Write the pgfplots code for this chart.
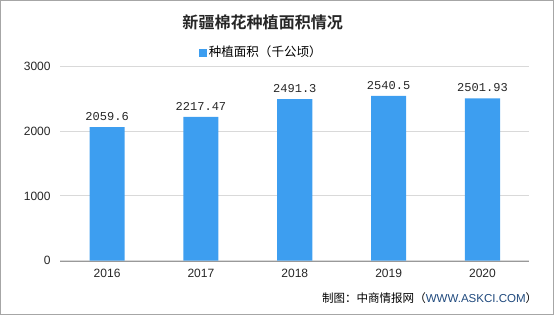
\documentclass[border=0pt]{standalone}
\usepackage{pgfplots}
\pgfplotsset{compat=1.18}
\usepackage{fontspec}
\setmainfont{Liberation Sans}
\newfontfamily\cjk{Noto Sans CJK SC}
\newfontfamily\cjkb{Noto Sans CJK SC Bold}
\newfontfamily\lblfont{Liberation Mono}
\definecolor{barblue}{RGB}{61,158,240}
\begin{document}
\begin{tikzpicture}[x=1pt,y=1pt]
\draw[gray!70, line width=1pt] (0.5,0.5) rectangle (552,313.5);
\node[font=\cjkb\fontsize{16}{18}\selectfont, text=black!85] at (262,292) {新疆棉花种植面积情况};
\node[font=\cjk\fontsize{12.5}{14}\selectfont, anchor=west, inner sep=0pt] at (198,262) {\textcolor{barblue}{\rule{8pt}{8pt}}\,种植面积（千公顷）};
\node[font=\cjk\fontsize{11.5}{13}\selectfont, anchor=east, inner sep=0pt] at (536,17) {制图：中商情报网（\textcolor[RGB]{31,73,125}{\fontspec{Liberation Sans}WWW.ASKCI.COM}）};
\begin{axis}[
  at={(60pt,54pt)}, anchor=south west,
  scale only axis, width=468pt, height=194pt,
  xmin=-0.5, xmax=4.5, ymin=0, ymax=3000,
  ytick={0,1000,2000,3000},
  xtick={0,1,2,3,4},
  xticklabels={2016,2017,2018,2019,2020},
  major x tick style={draw=none},
  extra x ticks={-0.5,0.5,1.5,2.5,3.5,4.5},
  extra x tick labels={},
  extra x tick style={major tick length=4pt, tick style={gray!80}, tick align=outside, grid=none},
  axis x line*=bottom, axis y line*=left,
  x axis line style={-, gray!80},
  y axis line style={draw=none},
  major y tick style={draw=none},
  ymajorgrids, grid style={gray!30, line width=0.8pt},
  tick label style={font=\fontsize{12}{14}\selectfont, text=black!85},
  yticklabel style={xshift=-6pt},
  xticklabel style={yshift=-1pt},
  /pgf/number format/assume math mode=true,
  yticklabel={\pgfmathprintnumber[fixed,1000 sep={}]{\tick}},
  ybar, bar width=35pt,
  nodes near coords,
  every node near coord/.append style={font=\lblfont\fontsize{12}{14}\selectfont, text=black!85, yshift=3pt},
  point meta=explicit symbolic,
]
\addplot[fill=barblue, draw=none] coordinates {
  (0,2059.6) [2059.6]
  (1,2217.47) [2217.47]
  (2,2491.3) [2491.3]
  (3,2540.5) [2540.5]
  (4,2501.93) [2501.93]
};
\end{axis}
\end{tikzpicture}
\end{document}
